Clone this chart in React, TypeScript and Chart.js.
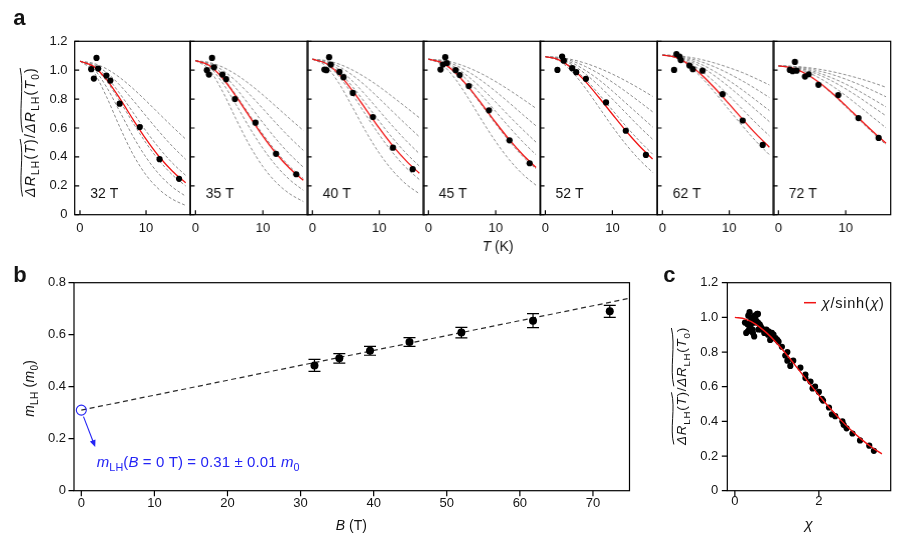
import React, { useEffect, useRef } from "react";
import { Chart, registerables } from "chart.js";

Chart.register(...registerables);

const FONT = '"Liberation Sans", Arial, Helvetica, sans-serif';
const INK = "#141414";
const RED = "#f01414";
const GRAY = "#8c8c8c";
const BLUE = "#2424f5";

// ---------------- panel a data ----------------
const FIELD_LABELS = ["32 T", "35 T", "40 T", "45 T", "52 T", "62 T", "72 T"];
const CURVE_T = [0, 2, 4, 6, 8, 10, 12, 14, 16];
const A_X_TICKS = [0, 10];
const A_Y_TICKS = [0, 0.2, 0.4, 0.6, 0.8, 1.0, 1.2];

const FIT_32T = [1.062, 1.028, 0.936, 0.806, 0.662, 0.523, 0.401, 0.301, 0.221];
const GUIDE_32T = [
  [1.062, 1.048, 1.01, 0.95, 0.874, 0.788, 0.698, 0.609, 0.523],
  [1.062, 1.041, 0.984, 0.898, 0.794, 0.683, 0.574, 0.473, 0.383],
  [1.062, 1.034, 0.955, 0.84, 0.71, 0.579, 0.46, 0.357, 0.272],
  [1.062, 1.025, 0.926, 0.788, 0.638, 0.496, 0.374, 0.275, 0.199],
  [1.062, 1.013, 0.885, 0.716, 0.545, 0.397, 0.279, 0.191, 0.128],
  [1.062, 0.992, 0.818, 0.609, 0.42, 0.275, 0.174, 0.107, 0.064],
];
const PT_T_32T = [1.7, 2.1, 2.5, 2.75, 4.0, 4.6, 6.0, 9.05, 12.05, 15.0];
const PT_R_32T = [1.007, 0.942, 1.085, 1.011, 0.963, 0.928, 0.768, 0.607, 0.384, 0.248];

const FIT_35T = [1.066, 1.034, 0.946, 0.821, 0.681, 0.544, 0.422, 0.32, 0.238];
const GUIDE_35T = [
  [1.066, 1.054, 1.022, 0.971, 0.905, 0.829, 0.747, 0.664, 0.583],
  [1.066, 1.049, 1.0, 0.926, 0.834, 0.734, 0.631, 0.534, 0.445],
  [1.066, 1.042, 0.975, 0.876, 0.758, 0.637, 0.521, 0.418, 0.329],
  [1.066, 1.035, 0.95, 0.829, 0.692, 0.557, 0.436, 0.333, 0.25],
  [1.066, 1.025, 0.914, 0.764, 0.604, 0.459, 0.337, 0.241, 0.169],
  [1.066, 1.007, 0.855, 0.664, 0.482, 0.333, 0.222, 0.144, 0.091],
];
const PT_T_35T = [1.7, 2.0, 2.46, 2.75, 4.0, 4.55, 5.85, 8.9, 11.95, 14.95];
const PT_R_35T = [1.0, 0.97, 1.085, 1.02, 0.97, 0.938, 0.8, 0.637, 0.421, 0.28];

const FIT_40T = [1.076, 1.048, 0.971, 0.858, 0.729, 0.599, 0.478, 0.374, 0.287];
const GUIDE_40T = [
  [1.076, 1.067, 1.042, 1.001, 0.948, 0.886, 0.816, 0.744, 0.671],
  [1.076, 1.063, 1.024, 0.965, 0.89, 0.804, 0.714, 0.625, 0.539],
  [1.076, 1.057, 1.004, 0.924, 0.826, 0.719, 0.613, 0.513, 0.422],
  [1.076, 1.052, 0.985, 0.886, 0.768, 0.646, 0.53, 0.426, 0.336],
  [1.076, 1.044, 0.956, 0.831, 0.69, 0.553, 0.43, 0.326, 0.243],
  [1.076, 1.03, 0.907, 0.744, 0.575, 0.426, 0.305, 0.212, 0.145],
];
const PT_T_40T = [1.8, 2.1, 2.5, 2.75, 4.05, 4.65, 6.05, 9.05, 12.05, 15.0];
const PT_R_40T = [1.004, 1.0, 1.09, 1.039, 0.988, 0.952, 0.843, 0.676, 0.464, 0.315];

const FIT_45T = [1.076, 1.052, 0.983, 0.881, 0.762, 0.638, 0.521, 0.417, 0.327];
const GUIDE_45T = [
  [1.076, 1.069, 1.049, 1.016, 0.973, 0.921, 0.863, 0.801, 0.736],
  [1.076, 1.065, 1.035, 0.987, 0.925, 0.853, 0.775, 0.694, 0.615],
  [1.076, 1.061, 1.019, 0.953, 0.871, 0.779, 0.683, 0.59, 0.502],
  [1.076, 1.057, 1.003, 0.921, 0.822, 0.714, 0.607, 0.506, 0.415],
  [1.076, 1.05, 0.979, 0.875, 0.753, 0.628, 0.51, 0.405, 0.316],
  [1.076, 1.039, 0.939, 0.801, 0.649, 0.506, 0.382, 0.281, 0.204],
];
const PT_T_45T = [1.8, 2.15, 2.5, 2.75, 4.05, 4.65, 6.0, 9.0, 12.05, 15.05];
const PT_R_45T = [1.004, 1.039, 1.09, 1.05, 1.0, 0.966, 0.89, 0.722, 0.515, 0.356];

const FIT_52T = [1.094, 1.072, 1.012, 0.921, 0.811, 0.695, 0.581, 0.477, 0.385];
const GUIDE_52T = [
  [1.094, 1.089, 1.073, 1.048, 1.014, 0.973, 0.926, 0.874, 0.819],
  [1.094, 1.086, 1.063, 1.025, 0.976, 0.917, 0.852, 0.783, 0.712],
  [1.094, 1.082, 1.05, 0.998, 0.933, 0.856, 0.773, 0.69, 0.607],
  [1.094, 1.079, 1.038, 0.973, 0.892, 0.8, 0.705, 0.61, 0.522],
  [1.094, 1.074, 1.019, 0.936, 0.834, 0.724, 0.614, 0.512, 0.419],
  [1.094, 1.066, 0.988, 0.874, 0.743, 0.61, 0.488, 0.382, 0.293],
];
const PT_T_52T = [1.8, 2.5, 2.75, 4.0, 4.6, 6.05, 9.05, 12.0, 15.0];
const PT_R_52T = [1.002, 1.094, 1.066, 1.014, 0.986, 0.94, 0.777, 0.581, 0.414];

const FIT_62T = [1.105, 1.088, 1.038, 0.962, 0.868, 0.765, 0.66, 0.559, 0.467];
const GUIDE_62T = [
  [1.105, 1.101, 1.09, 1.072, 1.047, 1.017, 0.983, 0.942, 0.898],
  [1.105, 1.1, 1.082, 1.055, 1.019, 0.975, 0.925, 0.87, 0.811],
  [1.105, 1.097, 1.073, 1.036, 0.986, 0.927, 0.862, 0.792, 0.721],
  [1.105, 1.094, 1.064, 1.017, 0.955, 0.883, 0.805, 0.724, 0.644],
  [1.105, 1.091, 1.051, 0.989, 0.91, 0.821, 0.728, 0.634, 0.546],
  [1.105, 1.085, 1.028, 0.942, 0.837, 0.724, 0.613, 0.508, 0.415],
];
const PT_T_62T = [1.75, 2.1, 2.55, 2.75, 4.05, 4.55, 6.0, 9.0, 12.0, 15.0];
const PT_R_62T = [1.002, 1.112, 1.094, 1.07, 1.032, 1.007, 0.997, 0.834, 0.652, 0.483];

const FIT_72T = [1.03, 1.016, 0.977, 0.917, 0.841, 0.755, 0.665, 0.577, 0.494];
const GUIDE_72T = [
  [1.03, 1.027, 1.02, 1.007, 0.99, 0.968, 0.943, 0.914, 0.882],
  [1.03, 1.026, 1.015, 0.995, 0.97, 0.938, 0.901, 0.86, 0.816],
  [1.03, 1.025, 1.008, 0.981, 0.946, 0.904, 0.855, 0.801, 0.746],
  [1.03, 1.023, 1.002, 0.968, 0.924, 0.871, 0.812, 0.748, 0.684],
  [1.03, 1.02, 0.992, 0.948, 0.891, 0.824, 0.751, 0.676, 0.601],
  [1.03, 1.016, 0.976, 0.914, 0.836, 0.748, 0.657, 0.568, 0.484],
];
const PT_T_72T = [1.7, 2.1, 2.45, 2.7, 3.95, 4.5, 5.95, 8.9, 11.9, 14.9];
const PT_R_72T = [1.002, 0.993, 1.057, 0.997, 0.956, 0.972, 0.899, 0.828, 0.669, 0.531];

const PANELS_A = [
  { fit: FIT_32T, guides: GUIDE_32T, pt: PT_T_32T, pr: PT_R_32T },
  { fit: FIT_35T, guides: GUIDE_35T, pt: PT_T_35T, pr: PT_R_35T },
  { fit: FIT_40T, guides: GUIDE_40T, pt: PT_T_40T, pr: PT_R_40T },
  { fit: FIT_45T, guides: GUIDE_45T, pt: PT_T_45T, pr: PT_R_45T },
  { fit: FIT_52T, guides: GUIDE_52T, pt: PT_T_52T, pr: PT_R_52T },
  { fit: FIT_62T, guides: GUIDE_62T, pt: PT_T_62T, pr: PT_R_62T },
  { fit: FIT_72T, guides: GUIDE_72T, pt: PT_T_72T, pr: PT_R_72T },
];

// ---------------- panel b data ----------------
const B_FIELD = [31.9, 35.3, 39.5, 44.9, 52.0, 61.8, 72.3];
const M_LH = [0.482, 0.509, 0.538, 0.572, 0.608, 0.654, 0.69];
const M_ERR = [0.023, 0.018, 0.017, 0.017, 0.02, 0.027, 0.023];
const FIT_B = [0, 75];
const FIT_M = [0.31, 0.74];
const ZERO_B = [0];
const ZERO_M = [0.31];
const ARROW_B = [0.3, 1.9];
const ARROW_M = [0.285, 0.168];
const B_X_TICKS = [0, 10, 20, 30, 40, 50, 60, 70];
const B_Y_TICKS = [0, 0.2, 0.4, 0.6, 0.8];

// ---------------- panel c data ----------------
const CHI_PTS = [
  0.37, 0.46, 0.55, 0.61, 0.88, 1.01, 1.32, 2.0, 2.66, 3.31,
  0.36, 0.43, 0.53, 0.59, 0.86, 0.97, 1.25, 1.91, 2.56, 3.2,
  0.36, 0.42, 0.5, 0.55, 0.8, 0.92, 1.2, 1.8, 2.39, 2.98,
  0.34, 0.4, 0.47, 0.51, 0.75, 0.87, 1.12, 1.68, 2.24, 2.8,
  0.31, 0.43, 0.47, 0.69, 0.79, 1.04, 1.56, 2.07, 2.59,
  0.27, 0.32, 0.39, 0.42, 0.62, 0.7, 0.92, 1.39, 1.85, 2.31,
  0.24, 0.3, 0.35, 0.38, 0.56, 0.63, 0.84, 1.25, 1.68, 2.1,
];
const RATIO_PTS = [
  0.95, 0.89, 1.02, 0.95, 0.91, 0.87, 0.72, 0.57, 0.36, 0.23,
  0.94, 0.91, 1.02, 0.96, 0.91, 0.88, 0.75, 0.6, 0.4, 0.26,
  0.93, 0.93, 1.01, 0.97, 0.92, 0.88, 0.78, 0.63, 0.43, 0.29,
  0.93, 0.97, 1.01, 0.98, 0.93, 0.9, 0.83, 0.67, 0.48, 0.33,
  0.92, 1.0, 0.97, 0.93, 0.9, 0.86, 0.71, 0.53, 0.38,
  0.91, 1.01, 0.99, 0.97, 0.93, 0.91, 0.9, 0.75, 0.59, 0.44,
  0.97, 0.96, 1.03, 0.97, 0.93, 0.94, 0.87, 0.8, 0.65, 0.52,
];
const CHI_CURVE = [0, 0.25, 0.5, 0.75, 1, 1.25, 1.5, 1.75, 2, 2.25, 2.5, 2.75, 3, 3.25, 3.5];
const LK_CURVE = [1, 0.99, 0.96, 0.912, 0.851, 0.78, 0.704, 0.627, 0.551, 0.48, 0.413, 0.353, 0.299, 0.252, 0.212];
const C_X_TICKS = [0, 2];
const C_Y_TICKS = [0, 0.2, 0.4, 0.6, 0.8, 1.0, 1.2];

// ---------------- layout ----------------
const BX = [74.7, 190.3, 307.3, 423.3, 540, 657.3, 773.3, 890];
const A_TOP = 41.3;
const A_BOTTOM = 214.7;
const A_CANVAS_H = 260;
const A_LEFT_GUTTER = 8;

type Seg = { t: string; i?: boolean; s?: boolean };
type Rich = {
  x: number; y: number; segs: Seg[]; size: number; rot?: number; color?: string;
  bold?: boolean; align?: "left" | "center"; tildes?: [number, number][]; targetW?: number;
};
type Box = { left: number; top: number; width: number; height: number };

function segFont(s: Seg, size: number, bold?: boolean) {
  const sz = s.s ? size * 0.72 : size;
  return `${s.i ? "italic " : ""}${bold ? "bold " : ""}${sz}px ${FONT}`;
}

function drawRich(ctx: CanvasRenderingContext2D, r: Rich) {
  ctx.save();
  ctx.translate(r.x, r.y);
  if (r.rot) ctx.rotate(r.rot);
  const c: any = ctx;
  const measure = () =>
    r.segs.map((s) => {
      ctx.font = segFont(s, r.size, r.bold);
      return ctx.measureText(s.t).width;
    });
  let widths = measure();
  let total = widths.reduce((a, b) => a + b, 0);
  if (r.targetW && "letterSpacing" in c) {
    const n = r.segs.reduce((a, s) => a + Array.from(s.t).length, 0);
    c.letterSpacing = `${((r.targetW - total) / n).toFixed(2)}px`;
    widths = measure();
    total = widths.reduce((a, b) => a + b, 0);
  }
  let x = r.align === "left" ? 0 : -total / 2;
  const base = r.size * 0.36;
  const xs: number[] = [];
  ctx.fillStyle = r.color || INK;
  ctx.textBaseline = "alphabetic";
  ctx.textAlign = "left";
  r.segs.forEach((s, k) => {
    ctx.font = segFont(s, r.size, r.bold);
    xs.push(x);
    ctx.fillText(s.t, x, base + (s.s ? r.size * 0.28 : 0));
    x += widths[k];
  });
  xs.push(x);
  if (r.tildes) {
    ctx.strokeStyle = r.color || INK;
    ctx.lineWidth = 1;
    for (const [a, b] of r.tildes) {
      const x0 = xs[a] + 0.5;
      const x1 = xs[b + 1] - 1;
      const w = x1 - x0;
      const y = base - r.size * 0.98;
      const amp = 1.2;
      ctx.beginPath();
      ctx.moveTo(x0, y + amp);
      ctx.bezierCurveTo(x0 + w * 0.3, y - amp * 2.6, x0 + w * 0.7, y + amp * 2.6, x1, y - amp);
      ctx.stroke();
    }
  }
  ctx.restore();
}

function textsPlugin(items: Rich[], ox: number, oy: number) {
  return {
    id: "texts",
    afterDraw(chart: any) {
      for (const it of items) drawRich(chart.ctx, { ...it, x: it.x - ox, y: it.y - oy });
    },
  };
}

function framePlugin(xt: number[], yt: number[], inside: boolean, len: number) {
  return {
    id: "frame",
    afterDatasetsDraw(chart: any) {
      const { ctx, chartArea: a, scales } = chart;
      ctx.save();
      ctx.strokeStyle = "#000";
      ctx.lineWidth = 1.2;
      ctx.strokeRect(a.left, a.top, a.right - a.left, a.bottom - a.top);
      const d = inside ? -1 : 1;
      ctx.beginPath();
      xt.forEach((v) => {
        const px = scales.x.getPixelForValue(v);
        ctx.moveTo(px, a.bottom);
        ctx.lineTo(px, a.bottom + d * len);
      });
      yt.forEach((v) => {
        const py = scales.y.getPixelForValue(v);
        ctx.moveTo(a.left, py);
        ctx.lineTo(a.left - d * len, py);
      });
      ctx.stroke();
      ctx.restore();
    },
  };
}

const fmtDec = (v: number) => (v === 0 ? "0" : v.toFixed(1));
const fmtInt = (v: number) => String(v);

function axis(min: number, max: number, ticks: number[], fit: (s: any) => void, show: boolean, pad: number, fmt: (v: number) => string) {
  return {
    type: "linear" as const,
    min,
    max,
    afterBuildTicks: (s: any) => {
      s.ticks = ticks.map((v) => ({ value: v }));
    },
    afterFit: fit,
    grid: { display: false, drawTicks: false },
    border: { display: false },
    ticks: {
      display: show,
      padding: pad,
      autoSkip: false,
      maxRotation: 0,
      color: INK,
      font: { family: FONT, size: 13 },
      callback: (v: any) => fmt(Number(v)),
    },
  };
}

function baseOptions(padTop: number, padRight: number, x: any, y: any) {
  return {
    responsive: true,
    maintainAspectRatio: false,
    animation: false as const,
    layout: { autoPadding: false, padding: { top: padTop, right: padRight, left: 0, bottom: 0 } },
    plugins: { legend: { display: false }, tooltip: { enabled: false } },
    events: [] as any[],
    scales: { x, y },
  };
}

function ChartBox({ box, build }: { box: Box; build: (c: HTMLCanvasElement) => Chart }) {
  const ref = useRef<HTMLCanvasElement | null>(null);
  useEffect(() => {
    if (!ref.current) return;
    const ch = build(ref.current);
    return () => ch.destroy();
  }, []);
  return (
    <div style={{ position: "absolute", left: box.left, top: box.top, width: box.width, height: box.height }}>
      <canvas ref={ref} />
    </div>
  );
}

const ROT = -Math.PI / 2;
const RATIO_TITLE: Seg[] = [
  { t: "ΔR", i: true }, { t: "LH", s: true }, { t: "(" }, { t: "T", i: true }, { t: ")" }, { t: "/" },
  { t: "ΔR", i: true }, { t: "LH", s: true }, { t: "(" }, { t: "T", i: true }, { t: "0", s: true }, { t: ")" },
];
const RATIO_TILDES: [number, number][] = [[0, 4], [6, 11]];

function subpanelBox(i: number): Box {
  const left = i === 0 ? 0 : BX[i] - A_LEFT_GUTTER;
  const right = Math.round(BX[i + 1] + 2);
  return { left, top: 0, width: right - left, height: A_CANVAS_H };
}

function buildA(i: number) {
  return (cv: HTMLCanvasElement) => {
    const box = subpanelBox(i);
    const wy = BX[i] - box.left;
    const hx = A_CANVAS_H - A_BOTTOM;
    const p = PANELS_A[i];
    const datasets: any[] = [
      {
        data: p.pt.map((t, k) => ({ x: t, y: p.pr[k] })),
        showLine: false, pointRadius: 3.1, pointBackgroundColor: "#000", pointBorderWidth: 0,
      },
      {
        data: CURVE_T.map((t, k) => ({ x: t, y: p.fit[k] })),
        borderColor: RED, borderWidth: 1.3, pointRadius: 0, cubicInterpolationMode: "monotone", fill: false,
      },
      ...p.guides.map((g) => ({
        data: CURVE_T.map((t, k) => ({ x: t, y: g[k] })),
        borderColor: GRAY, borderWidth: 1, borderDash: [3, 2], pointRadius: 0,
        cubicInterpolationMode: "monotone", fill: false,
      })),
    ];
    const items: Rich[] = [
      { x: BX[i] + 15.5, y: 192.5, size: 14, align: "left", segs: [{ t: FIELD_LABELS[i] }] },
    ];
    if (i === 0) {
      items.push({ x: 13.3, y: 17.1, size: 22, bold: true, align: "left", segs: [{ t: "a" }] });
      items.push({ x: 30, y: 132, size: 14, rot: ROT, segs: RATIO_TITLE, tildes: RATIO_TILDES, targetW: 130 });
    }
    if (i === 3) {
      items.push({ x: 497.5, y: 245.5, size: 14, segs: [{ t: "T", i: true }, { t: " (K)" }] });
    }
    const x = axis(-0.8, 16.7, A_X_TICKS, (s: any) => { s.height = hx; }, true, 5.5, fmtInt);
    const y = axis(0, 1.2, A_Y_TICKS, (s: any) => { s.width = wy; }, i === 0, 7.2, fmtDec);
    return new Chart(cv, {
      type: "line",
      data: { datasets },
      options: baseOptions(A_TOP, box.left + box.width - BX[i + 1], x, y) as any,
      plugins: [framePlugin(A_X_TICKS, A_Y_TICKS, true, 4.5), textsPlugin(items, box.left, box.top)] as any,
    });
  };
}

const B_BOX: Box = { left: 0, top: 258, width: 640, height: 286 };
function buildB(cv: HTMLCanvasElement) {
  const area = { left: 74, right: 629.5, top: 282.7, bottom: 490.7 };
  const hx = B_BOX.top + B_BOX.height - area.bottom;
  const errPlugin = {
    id: "errbars",
    beforeDatasetsDraw(chart: any) {
      const { ctx, scales } = chart;
      ctx.save();
      ctx.strokeStyle = "#000";
      ctx.lineWidth = 1.2;
      B_FIELD.forEach((b, k) => {
        const px = scales.x.getPixelForValue(b);
        const y1 = scales.y.getPixelForValue(M_LH[k] - M_ERR[k]);
        const y2 = scales.y.getPixelForValue(M_LH[k] + M_ERR[k]);
        ctx.beginPath();
        ctx.moveTo(px, y1); ctx.lineTo(px, y2);
        ctx.moveTo(px - 6, y1); ctx.lineTo(px + 6, y1);
        ctx.moveTo(px - 6, y2); ctx.lineTo(px + 6, y2);
        ctx.stroke();
      });
      ctx.restore();
    },
  };
  const arrowPlugin = {
    id: "arrow",
    afterDatasetsDraw(chart: any) {
      const { ctx, scales } = chart;
      const x0 = scales.x.getPixelForValue(ARROW_B[0]);
      const y0 = scales.y.getPixelForValue(ARROW_M[0]);
      const x1 = scales.x.getPixelForValue(ARROW_B[1]);
      const y1 = scales.y.getPixelForValue(ARROW_M[1]);
      const ang = Math.atan2(y1 - y0, x1 - x0);
      const L = 7, W = 3;
      ctx.save();
      ctx.strokeStyle = BLUE;
      ctx.fillStyle = BLUE;
      ctx.lineWidth = 1.1;
      ctx.beginPath();
      ctx.moveTo(x0, y0);
      ctx.lineTo(x1 - Math.cos(ang) * L * 0.8, y1 - Math.sin(ang) * L * 0.8);
      ctx.stroke();
      ctx.beginPath();
      ctx.moveTo(x1, y1);
      ctx.lineTo(x1 - Math.cos(ang) * L - Math.sin(ang) * W, y1 - Math.sin(ang) * L + Math.cos(ang) * W);
      ctx.lineTo(x1 - Math.cos(ang) * L + Math.sin(ang) * W, y1 - Math.sin(ang) * L - Math.cos(ang) * W);
      ctx.closePath();
      ctx.fill();
      ctx.restore();
    },
  };
  const items: Rich[] = [
    { x: 13.3, y: 273.8, size: 22, bold: true, align: "left", segs: [{ t: "b" }] },
    { x: 29, y: 388.3, size: 14, rot: ROT, targetW: 57, segs: [{ t: "m", i: true }, { t: "LH", s: true }, { t: " (" }, { t: "m", i: true }, { t: "0", s: true }, { t: ")" }] },
    { x: 351.3, y: 525, size: 14, segs: [{ t: "B", i: true }, { t: " (T)" }] },
    {
      x: 96.7, y: 461.7, size: 15, align: "left", color: BLUE, targetW: 203,
      segs: [{ t: "m", i: true }, { t: "LH", s: true }, { t: "(" }, { t: "B", i: true }, { t: " = 0 T) = 0.31 ± 0.01 " }, { t: "m", i: true }, { t: "0", s: true }],
    },
  ];
  const datasets: any[] = [
    {
      data: B_FIELD.map((b, k) => ({ x: b, y: M_LH[k] })),
      showLine: false, pointRadius: 4, pointBackgroundColor: "#000", pointBorderWidth: 0,
    },
    {
      data: ZERO_B.map((b, k) => ({ x: b, y: ZERO_M[k] })),
      showLine: false, pointRadius: 5, pointBackgroundColor: "rgba(0,0,0,0)", pointBorderColor: BLUE, pointBorderWidth: 1.1,
    },
    {
      data: FIT_B.map((b, k) => ({ x: b, y: FIT_M[k] })),
      borderColor: "#2a2a2a", borderWidth: 1.2, borderDash: [5, 3.5], pointRadius: 0, fill: false,
    },
  ];
  const x = axis(-1, 75, B_X_TICKS, (s: any) => { s.height = hx; }, true, 4.8, fmtInt);
  const y = axis(0, 0.8, B_Y_TICKS, (s: any) => { s.width = area.left - B_BOX.left; }, true, 8, fmtDec);
  return new Chart(cv, {
    type: "line",
    data: { datasets },
    options: baseOptions(area.top - B_BOX.top, B_BOX.left + B_BOX.width - area.right, x, y) as any,
    plugins: [errPlugin, framePlugin(B_X_TICKS, B_Y_TICKS, false, 5.5), arrowPlugin, textsPlugin(items, B_BOX.left, B_BOX.top)] as any,
  });
}

const C_BOX: Box = { left: 650, top: 258, width: 254, height: 286 };
function buildC(cv: HTMLCanvasElement) {
  const area = { left: 727.3, right: 890.7, top: 282.7, bottom: 490.7 };
  const hx = C_BOX.top + C_BOX.height - area.bottom;
  const legendLine = {
    id: "legendline",
    afterDraw(chart: any) {
      const ctx = chart.ctx;
      ctx.save();
      ctx.strokeStyle = RED;
      ctx.lineWidth = 1.5;
      ctx.beginPath();
      ctx.moveTo(804 - C_BOX.left, 302.7 - C_BOX.top);
      ctx.lineTo(816 - C_BOX.left, 302.7 - C_BOX.top);
      ctx.stroke();
      ctx.restore();
    },
  };
  const items: Rich[] = [
    { x: 663.3, y: 273.8, size: 22, bold: true, align: "left", segs: [{ t: "c" }] },
    { x: 681, y: 386, size: 13.5, rot: ROT, segs: RATIO_TITLE, tildes: RATIO_TILDES, targetW: 118 },
    { x: 808.7, y: 524, size: 15, segs: [{ t: "χ", i: true }] },
    { x: 821.7, y: 302.7, size: 14.5, align: "left", targetW: 63, segs: [{ t: "χ", i: true }, { t: "/sinh(" }, { t: "χ", i: true }, { t: ")" }] },
  ];
  const datasets: any[] = [
    {
      data: CHI_CURVE.map((c, k) => ({ x: c, y: LK_CURVE[k] })),
      borderColor: RED, borderWidth: 1.4, pointRadius: 0, cubicInterpolationMode: "monotone", fill: false,
    },
    {
      data: CHI_PTS.map((c, k) => ({ x: c, y: RATIO_PTS[k] })),
      showLine: false, pointRadius: 3.1, pointBackgroundColor: "#000", pointBorderWidth: 0,
    },
  ];
  const x = axis(-0.18, 3.71, C_X_TICKS, (s: any) => { s.height = hx; }, true, 3, fmtInt);
  const y = axis(0, 1.2, C_Y_TICKS, (s: any) => { s.width = area.left - C_BOX.left; }, true, 9, fmtDec);
  return new Chart(cv, {
    type: "line",
    data: { datasets },
    options: baseOptions(area.top - C_BOX.top, C_BOX.left + C_BOX.width - area.right, x, y) as any,
    plugins: [framePlugin(C_X_TICKS, C_Y_TICKS, false, 5.5), legendLine, textsPlugin(items, C_BOX.left, C_BOX.top)] as any,
  });
}

export default function App() {
  return (
    <div style={{ position: "absolute", left: 0, top: 0, width: 904, height: 544, background: "#fff", overflow: "hidden" }}>
      {PANELS_A.map((_, i) => (
        <ChartBox key={i} box={subpanelBox(i)} build={buildA(i)} />
      ))}
      <ChartBox box={B_BOX} build={buildB} />
      <ChartBox box={C_BOX} build={buildC} />
    </div>
  );
}
